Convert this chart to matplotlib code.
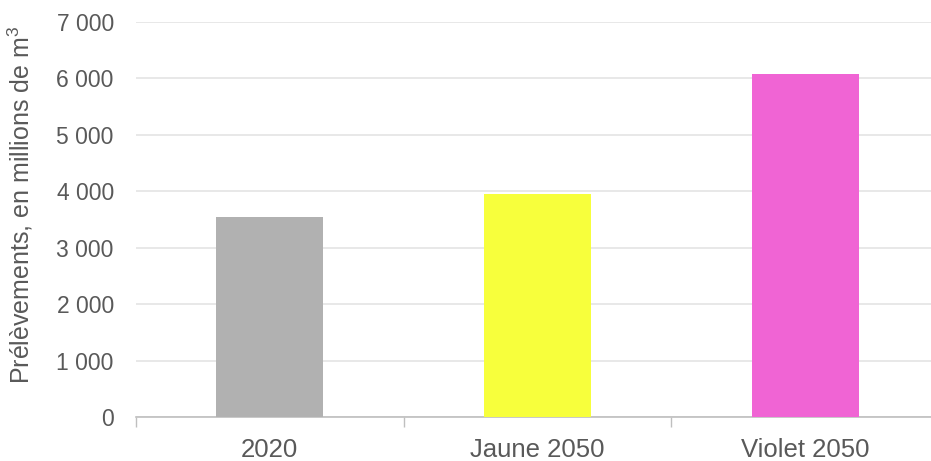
import matplotlib.pyplot as plt
from matplotlib.ticker import FuncFormatter, FixedLocator

categories = ['2020', 'Jaune 2050', 'Violet 2050']
values = [3540, 3950, 6070]
colors = ['#b1b1b1', '#f7ff3c', '#f064d4']
yticks = [0, 1000, 2000, 3000, 4000, 5000, 6000, 7000]

plt.rcParams['font.family'] = ['Liberation Sans', 'DejaVu Sans']
plt.rcParams['mathtext.fontset'] = 'custom'
plt.rcParams['mathtext.rm'] = 'Liberation Sans'

fig = plt.figure(figsize=(9.31, 4.61), dpi=100)
# l'axe déborde un peu à droite comme dans l'original
ax = fig.add_axes([136 / 931, 1 - 417 / 461, 803 / 931, 395 / 461])

x = range(len(categories))
ax.bar(x, values, width=0.40, color=colors, zorder=3)

ax.set_xlim(-0.5, len(categories) - 0.5)
ax.set_ylim(0, 7000)
ax.set_yticks(yticks)
ax.yaxis.set_major_formatter(FuncFormatter(lambda v, p: '{:,.0f}'.format(v).replace(',', ' ')))
ax.grid(axis='y', color='#e4e4e4', linewidth=1.2, zorder=0)

ax.set_xticks(list(x))
ax.set_xticklabels(categories)
ax.xaxis.set_minor_locator(FixedLocator([i - 0.5 for i in range(len(categories) + 1)]))
ax.tick_params(axis='x', which='major', length=0, pad=15, labelsize=18.5, colors='#595959')
ax.tick_params(axis='x', which='minor', length=7, width=1, color='#bfbfbf')
ax.tick_params(axis='y', length=0, pad=16, labelsize=16.5, colors='#595959')

for s in ['top', 'right', 'left']:
    ax.spines[s].set_visible(False)
ax.spines['bottom'].set_color('#bfbfbf')
ax.spines['bottom'].set_linewidth(1.2)

fig.text(20 / 931, 1 - 205 / 461, r'Prélèvements, en millions de m$^{\mathrm{3}}$', rotation=90,
         ha='center', va='center', fontsize=18, color='#595959')

fig.savefig('out.png', dpi=100)
